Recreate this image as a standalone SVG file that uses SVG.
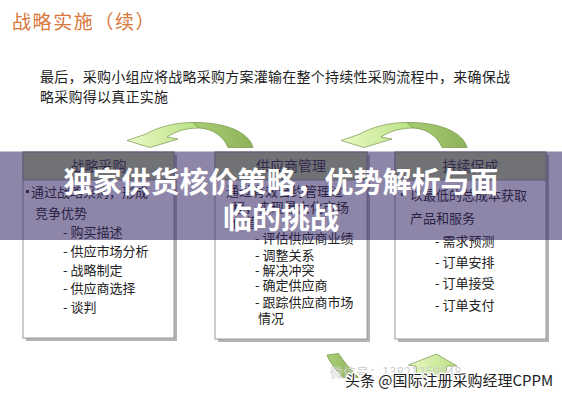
<svg xmlns="http://www.w3.org/2000/svg" width="562" height="400" viewBox="0 0 562 400">
<style>
.cjk{font-family:"Noto Sans CJK SC","Noto Sans",sans-serif}
.body{font-size:13px;fill:#222}
.head{font-size:14px;fill:#333;text-anchor:middle}
.box{fill:#fff;stroke:#9a9a9a;stroke-width:1}
.shadow{fill:#b4b4b4}
.hdr{fill:#bfd38f;stroke:#9a9a9a;stroke-width:1}
.light{fill:url(#lg);stroke:#86a05a;stroke-width:0.8}
.dark{fill:url(#dg);stroke:#7f9a50;stroke-width:0.8}
</style>
<defs>
<linearGradient id="lg" x1="0" y1="0" x2="1" y2="0">
<stop offset="0" stop-color="#e9f9c4"/>
<stop offset="1" stop-color="#b9e184"/>
</linearGradient>
<linearGradient id="dg" x1="0" y1="0" x2="1" y2="0">
<stop offset="0" stop-color="#a9cd74"/>
<stop offset="1" stop-color="#8db35a"/>
</linearGradient>
<g id="curl">
<path class="light" d="M193,122.5 C175,122.5 158,127 146,134 L127,140.5 L150,147.5 L178,139 L167,137 C176,131 187,128 199,128 Z"/>
<path class="dark" d="M193,122.5 C225,122 249,132 253,147.5 L228,147.5 C224,137 213,128.5 199,128 Z"/>
</g>
</defs>
<rect width="562" height="400" fill="#fff"/>
<text class="cjk" x="12" y="29" font-size="19" letter-spacing="1.6" fill="#d9773a">战略实施（续）</text>
<text class="cjk" x="40" y="82" font-size="14" letter-spacing="0.25" fill="#222">最后，采购小组应将战略采购方案灌输在整个持续性采购流程中，来确保战</text>
<text class="cjk" x="40" y="102" font-size="14" letter-spacing="0.25" fill="#222">略采购得以真正实施</text>

<g id="connectors">
<use href="#curl"/>
<use href="#curl" transform="translate(214,0)"/>
<path class="dark" d="M327,355 L338.5,353.5 C344,362 351,370 358.5,377.5 L343,377.5 C337,371 330,363 327,355 Z"/>
<path class="light" d="M436.5,354 L457,366 L447,366 C446,370 446,374 446.5,377.5 L417,377.5 C417,374 416.5,370 416,366 L408.5,365 Z"/>
</g>

<g id="node-strategic">
<rect class="shadow" x="26" y="155" width="151" height="186"/>
<rect class="box" x="23" y="152" width="151" height="186"/>
<rect class="hdr" x="23" y="152" width="151" height="28"/>
<text class="cjk head" x="98.5" y="171">战略采购</text>
<rect x="26" y="190" width="3" height="3" fill="#333"/>
<text class="cjk body" x="31" y="197">通过战略采购，形成</text>
<text class="cjk body" x="35" y="218">竞争优势</text>
<text class="cjk body" x="63" y="237">- 购买描述</text>
<text class="cjk body" x="63" y="256">- 供应市场分析</text>
<text class="cjk body" x="63" y="275">- 战略制定</text>
<text class="cjk body" x="63" y="293">- 供应商选择</text>
<text class="cjk body" x="63" y="312">- 谈判</text>
</g>

<g id="node-supplier">
<rect class="shadow" x="218" y="155" width="152" height="187"/>
<rect class="box" x="215" y="152" width="152" height="187"/>
<rect class="hdr" x="215" y="152" width="152" height="28"/>
<text class="cjk head" x="291" y="171">供应商管理</text>
<rect x="220" y="189" width="3" height="3" fill="#333"/>
<text class="cjk body" x="226" y="196">通过有效合约管理过</text>
<text class="cjk body" x="232" y="212">程，实现最大化市场</text>
<text class="cjk body" x="232" y="227">价值</text>
<text class="cjk body" x="255" y="243">- 评估供应商业绩</text>
<text class="cjk body" x="255" y="260">- 调整关系</text>
<text class="cjk body" x="255" y="275">- 解决冲突</text>
<text class="cjk body" x="255" y="290">- 确定供应商</text>
<text class="cjk body" x="255" y="306.5">- 跟踪供应商市场</text>
<text class="cjk body" x="258" y="323">情况</text>
</g>

<g id="node-continuous">
<rect class="shadow" x="398" y="155" width="151" height="187"/>
<rect class="box" x="395" y="152" width="151" height="187"/>
<rect class="hdr" x="395" y="152" width="151" height="28"/>
<text class="cjk head" x="470.5" y="171">持续促成</text>
<rect x="401" y="193" width="3" height="3" fill="#333"/>
<text class="cjk body" x="410" y="200">以最低的总成本获取</text>
<text class="cjk body" x="410" y="223">产品和服务</text>
<text class="cjk body" x="435" y="246">- 需求预测</text>
<text class="cjk body" x="435" y="266.5">- 订单安排</text>
<text class="cjk body" x="435" y="288">- 订单接受</text>
<text class="cjk body" x="435" y="310">- 订单支付</text>
</g>

<rect x="0" y="151.5" width="562" height="88.5" fill="#312360" opacity="0.55"/>
<text class="cjk" x="281" y="193" font-size="29" font-weight="bold" fill="#fff" text-anchor="middle">独家供货核价策略，优势解析与面</text>
<text class="cjk" x="281" y="229" font-size="29" font-weight="bold" fill="#fff" text-anchor="middle">临的挑战</text>

<text class="cjk" x="330" y="377" font-size="13" fill="#d0d0d0">微信号：13821259048</text>
<text class="cjk" x="345" y="386" font-size="15" fill="#222" stroke="#fff" stroke-width="2.5" paint-order="stroke" stroke-linejoin="round">头条 @国际注册采购经理CPPM</text>
</svg>
